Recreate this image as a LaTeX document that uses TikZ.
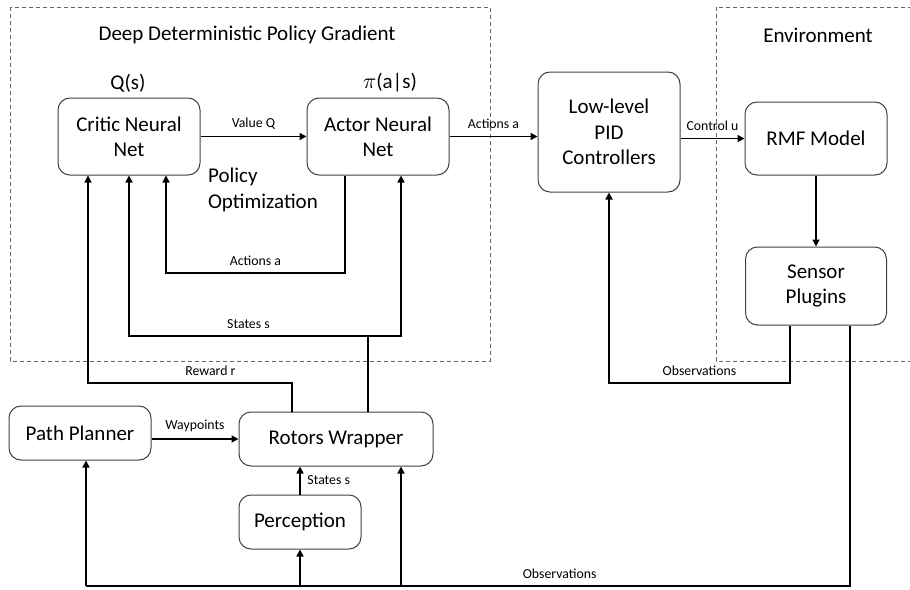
\documentclass[tikz,border=0pt]{standalone}
\usepackage{fontspec}
\setmainfont{Carlito}
\usetikzlibrary{arrows.meta,calc}

\begin{document}
\begin{tikzpicture}[x=0.5pt,y=-0.5pt,
	block/.style={draw=black!75, line width=0.5pt, rounded corners=6pt, align=center, inner sep=2pt, font=\fontsize{10.5}{12.7}\selectfont},
	flow/.style={line width=0.8pt, -{Triangle[length=3.5pt,width=3.5pt]}},
	link/.style={line width=0.8pt},
	tag/.style={font=\fontsize{6.9}{8}\selectfont},
	heading/.style={font=\fontsize{10.5}{12.7}\selectfont},
	group/.style={draw=black!60, dash pattern=on 2pt off 1.5pt, line width=0.5pt}]
	\useasboundingbox (0,0) rectangle (910,589);
	\draw[group] (10,7) rectangle (490,361);
	\draw[group] (716,7) rectangle (915,361);
	\node[heading] (ddpgtitle) at (247,35) {Deep Deterministic Policy Gradient};
	\node[heading] (envtitle) at (818,35) {Environment};
	\node[heading] (qlabel) at (128,83) {Q(s)};
	\node[heading] (pilabel) at (390,83) {$\pi$(a|s)};
	\node[heading, anchor=west, align=left] (polopt) at (201,190) {Policy\\Optimization};

	\node[block, minimum width=71pt, minimum height=38.5pt] (critic) at (129,136.5) {Critic Neural\\Net};
	\node[block, minimum width=71pt, minimum height=38.5pt] (actor) at (378,136.5) {Actor Neural\\Net};
	\node[block, minimum width=71pt, minimum height=60pt] (pid) at (609,132) {Low-level\\PID\\Controllers};
	\node[block, minimum width=71pt, minimum height=36.5pt] (rmf) at (816,138.5) {RMF Model};
	\node[block, minimum width=70.5pt, minimum height=39pt] (sensor) at (816,286) {Sensor\\Plugins};
	\node[block, minimum width=71pt, minimum height=27pt] (planner) at (80,433) {Path Planner};
	\node[block, minimum width=97pt, minimum height=27pt] (rotors) at (336,439) {Rotors Wrapper};
	\node[block, minimum width=61pt, minimum height=27pt] (percep) at (300,522) {Perception};

	\coordinate (actbus) at (0,273);
	\coordinate (stbus) at (0,336);
	\coordinate (rwbus) at (0,383);
	\coordinate (obsbus) at (0,383);
	\coordinate (lowbus) at (0,586);
	\coordinate (actout) at ($(actor.south)+(-33,0)$);
	\coordinate (actin) at ($(actor.south)+(23,0)$);
	\coordinate (critin1) at ($(critic.south)+(-41,0)$);
	\coordinate (critin3) at ($(critic.south)+(37,0)$);
	\coordinate (rotout1) at ($(rotors.north)+(-44,0)$);
	\coordinate (rotout2) at ($(rotors.north)+(32,0)$);
	\coordinate (rotin) at ($(rotors.south)+(65,0)$);
	\coordinate (sensout1) at ($(sensor.south)+(-26,0)$);
	\coordinate (sensout2) at ($(sensor.south)+(34,0)$);
	\coordinate (planin) at ($(planner.south)+(6,0)$);

	\draw[flow] (critic) -- node[tag,above] {Value Q} (actor);
	\draw[flow] (actor) -- node[tag,above] {Actions a} (actor.east -| pid.west);
	\draw[flow] (rmf.west -| pid.east) -- node[tag,above] {Control u} (rmf);
	\draw[flow] (rmf) -- (sensor);
	\draw[flow] (actout) -- (actout |- actbus) -- node[tag,above] {Actions a} (critin3 |- actbus) -- (critin3);
	\draw[link] (rotout2) -- (rotout2 |- stbus);
	\draw[flow] (rotout2 |- stbus) -- node[tag,above] {States s} (critic.south |- stbus) -- (critic.south);
	\draw[flow] (rotout2 |- stbus) -- (actin |- stbus) -- (actin);
	\draw[flow] (rotout1) -- (rotout1 |- rwbus) -- node[tag,above,pos=0.4] {Reward r} (critin1 |- rwbus) -- (critin1);
	\draw[flow] (sensout1) -- (sensout1 |- obsbus) -- node[tag,above] {Observations} (pid.south |- obsbus) -- (pid.south);
	\draw[flow] (rotors.west -| planner.east) -- node[tag,above] {Waypoints} (rotors.west);
	\draw[flow] (percep.north) -- node[tag,right] {States s} (percep.north |- rotors.south);
	\draw[link] (sensout2) -- (sensout2 |- lowbus) -- node[tag,above,pos=0.38] {Observations} (planin |- lowbus);
	\draw[flow] (planin |- lowbus) -- (planin);
	\draw[flow] (percep.south |- lowbus) -- (percep.south);
	\draw[flow] (rotin |- lowbus) -- (rotin);
\end{tikzpicture}
\end{document}
